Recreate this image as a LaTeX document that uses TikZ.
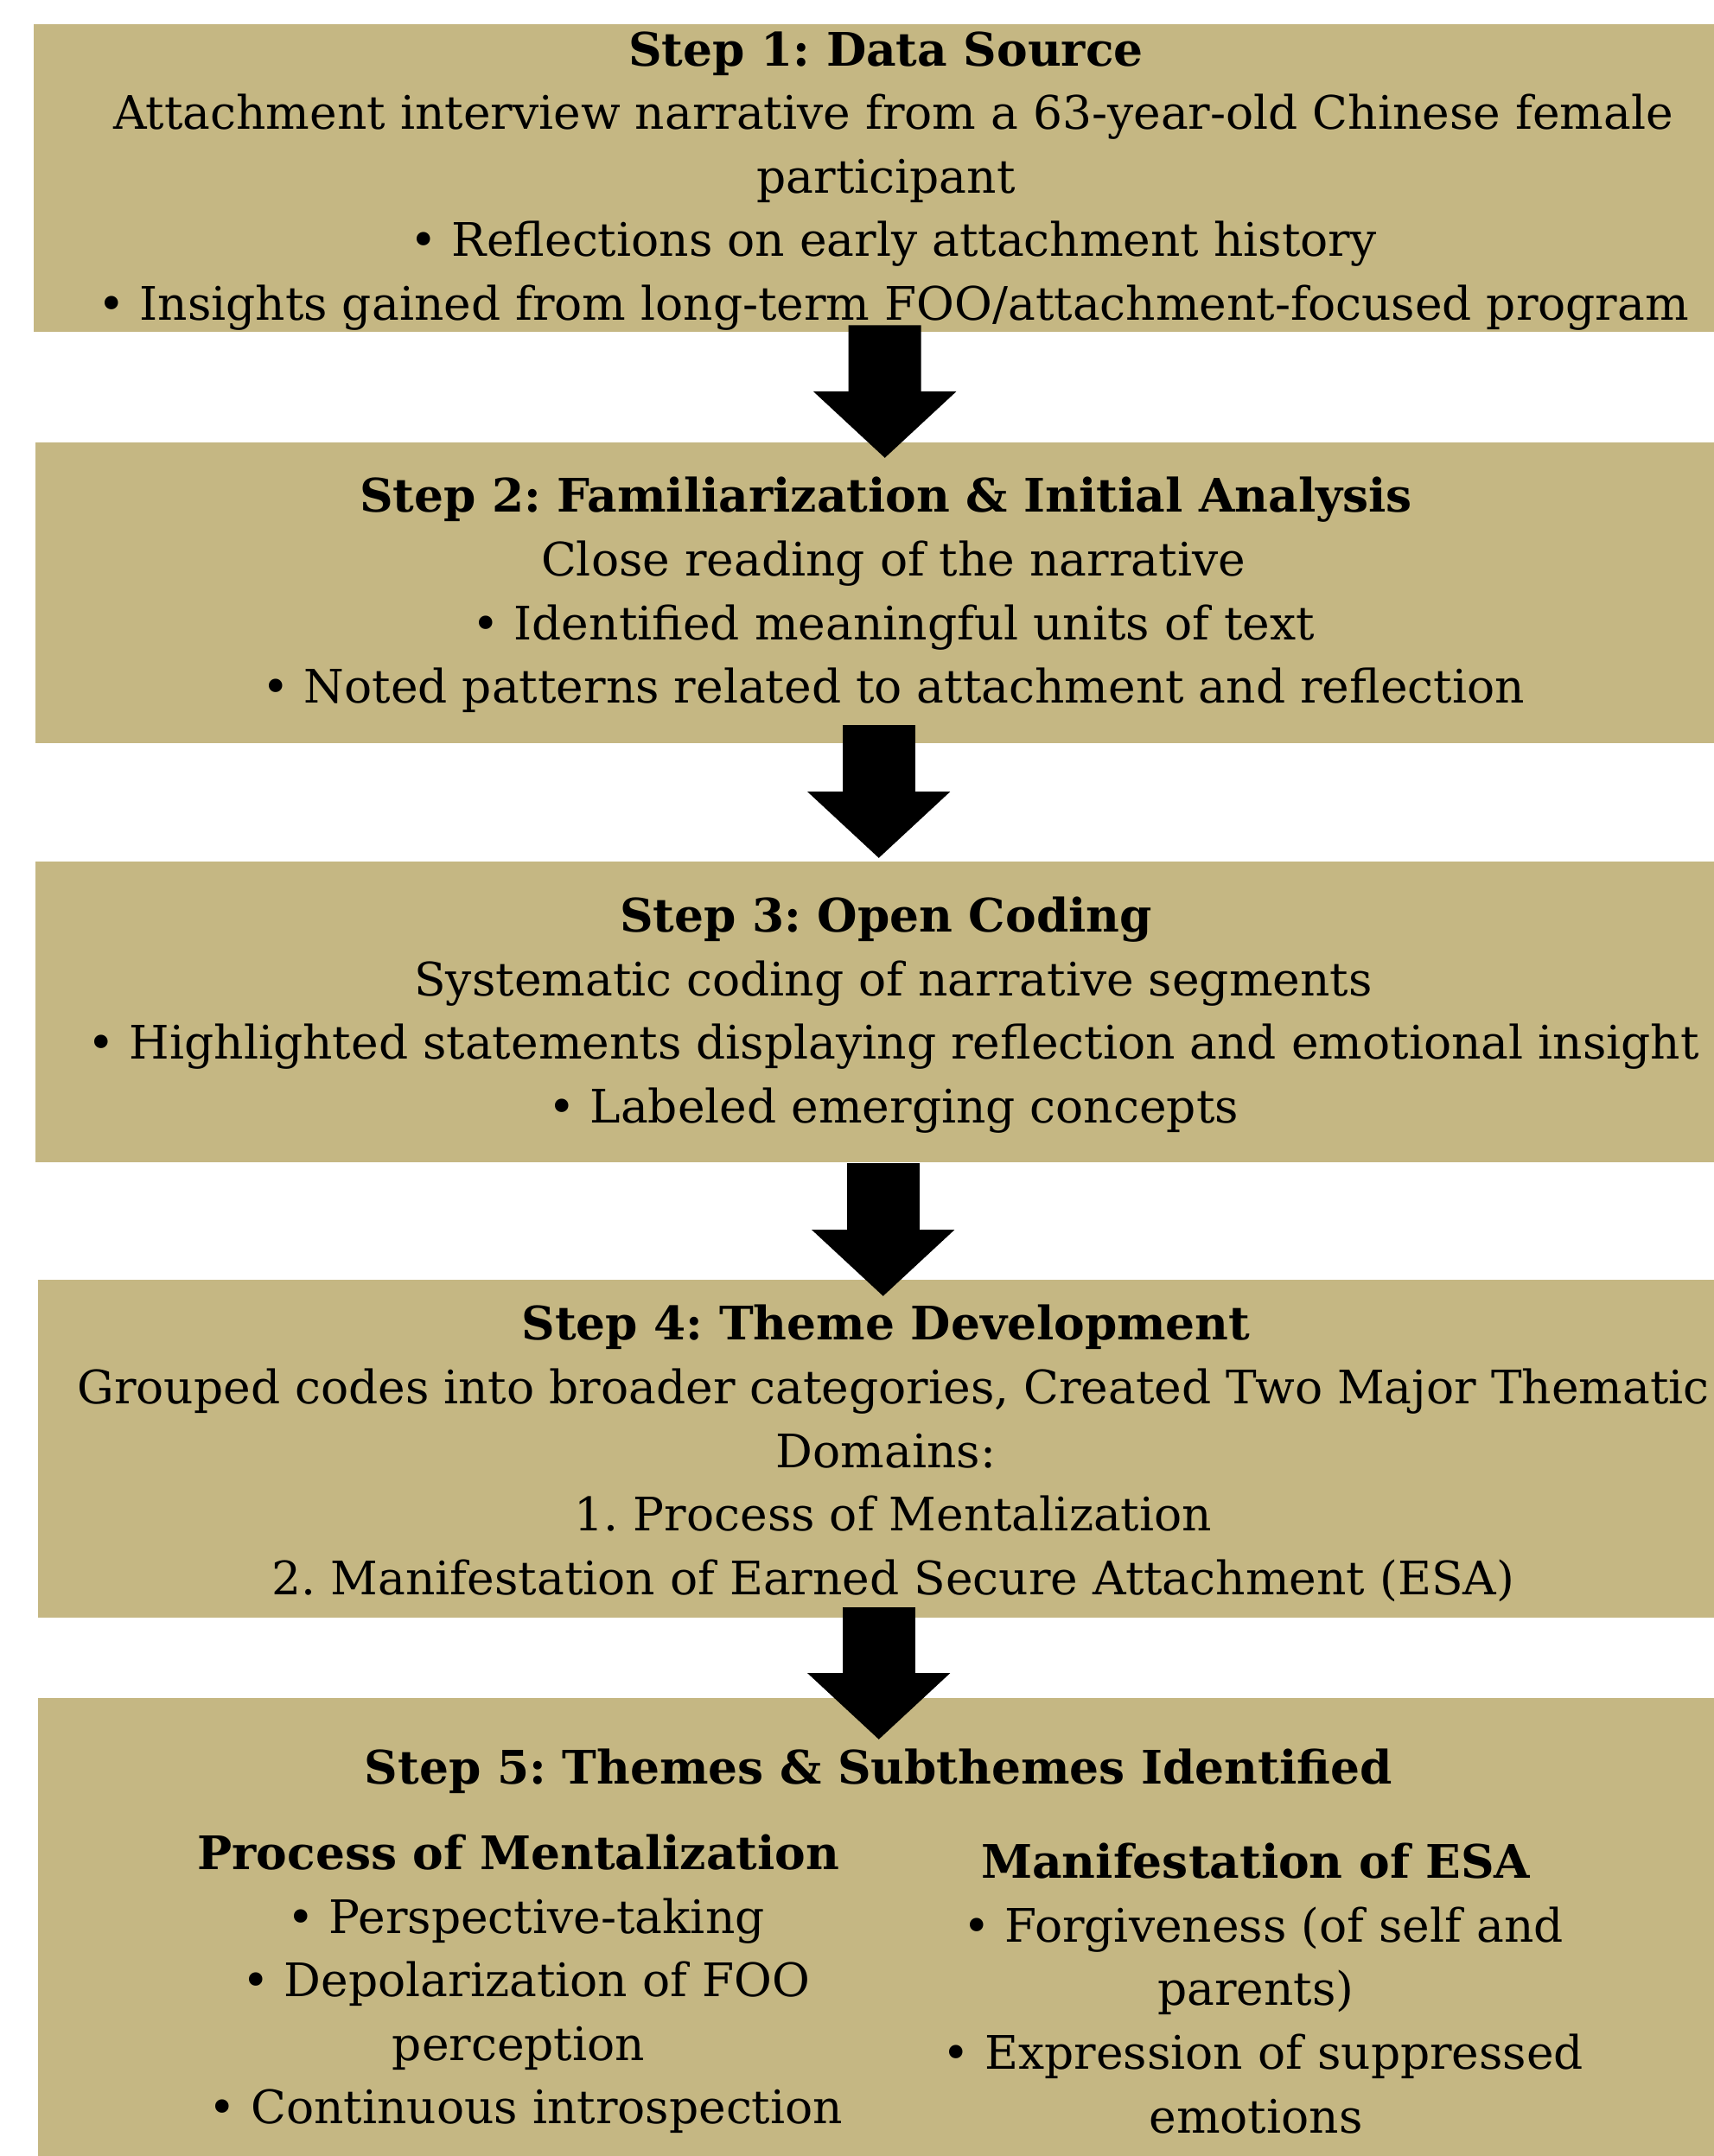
\documentclass[tikz,border=0pt]{standalone}
\usepackage{fontspec}
\setmainfont{DejaVu Serif}
\usepackage{tikz}
\usetikzlibrary{arrows.meta}
\definecolor{stepgold}{HTML}{C5B783}
\newcommand{\lsp}{\hspace*{.32em}}
\frenchspacing

\begin{document}
\begin{tikzpicture}[
	stepbox/.style={fill=stepgold, inner sep=0pt, anchor=north west},
	steptext/.style={align=center, inner sep=0pt, font=\fontsize{15.2}{20.94}\selectfont},
	flowarrow/.style={line width=0.84cm, -{Triangle[width=1.61cm, length=0.77cm]}}]
	\useasboundingbox (0,0) rectangle (19.82,-24.95);

	\node[stepbox, minimum width=19.44cm, minimum height=3.56cm] (box1) at (0.38,-0.27) {};
	\node[stepbox, minimum width=19.42cm, minimum height=3.48cm] (box2) at (0.40,-5.11) {};
	\node[stepbox, minimum width=19.42cm, minimum height=3.48cm] (box3) at (0.40,-9.96) {};
	\node[stepbox, minimum width=19.39cm, minimum height=3.91cm] (box4) at (0.43,-14.80) {};
	\node[stepbox, minimum width=19.39cm, minimum height=5.31cm] (box5) at (0.43,-19.64) {};

	\node[steptext] (text1) at (10.25,-2.095) {\textbf{Step 1: Data Source}\\
		\lsp Attachment interview narrative from a 63-year-old Chinese female\\
		participant\\
		\lsp • Reflections on early attachment history\\
		\lsp • Insights gained from long-term FOO/attachment-focused program};
	\node[steptext] (text2) at (10.25,-6.885) {\textbf{Step 2: Familiarization \& Initial Analysis}\\
		\lsp Close reading of the narrative\\
		\lsp • Identified meaningful units of text\\
		\lsp • Noted patterns related to attachment and reflection};
	\node[steptext] (text3) at (10.25,-11.745) {\textbf{Step 3: Open Coding}\\
		\lsp Systematic coding of narrative segments\\
		\lsp • Highlighted statements displaying reflection and emotional insight\\
		\lsp • Labeled emerging concepts};
	\node[steptext] (text4) at (10.25,-16.82) {\textbf{Step 4: Theme Development}\\
		\lsp Grouped codes into broader categories, Created Two Major Thematic\\
		Domains:\\
		\lsp 1. Process of Mentalization\\
		\lsp 2. Manifestation of Earned Secure Attachment (ESA)};
	\node[steptext] (text5) at (10.165,-20.50) {\textbf{Step 5: Themes \& Subthemes Identified}};
	\node[steptext] (mental) at (6.00,-22.96) {\textbf{Process of Mentalization}\\
		\lsp • Perspective-taking\\
		\lsp • Depolarization of FOO\\
		perception\\
		\lsp • Continuous introspection};
	\node[steptext] (esa) at (14.53,-23.01) {\textbf{Manifestation of ESA}\\
		\lsp • Forgiveness (of self and\\
		parents)\\
		\lsp • Expression of suppressed\\
		emotions};

	\draw[flowarrow] ([xshift=0.13cm, yshift=0.08cm]box1.south) -- ([xshift=0.12cm, yshift=-0.19cm]box2.north);
	\draw[flowarrow] ([xshift=0.05cm, yshift=0.21cm]box2.south) -- ([xshift=0.05cm, yshift=0.03cm]box3.north);
	\draw[flowarrow] ([xshift=0.10cm, yshift=-0.01cm]box3.south) -- ([xshift=0.085cm, yshift=-0.20cm]box4.north);
	\draw[flowarrow] ([xshift=0.035cm, yshift=0.12cm]box4.south) -- ([xshift=0.035cm, yshift=-0.49cm]box5.north);
\end{tikzpicture}
\end{document}
